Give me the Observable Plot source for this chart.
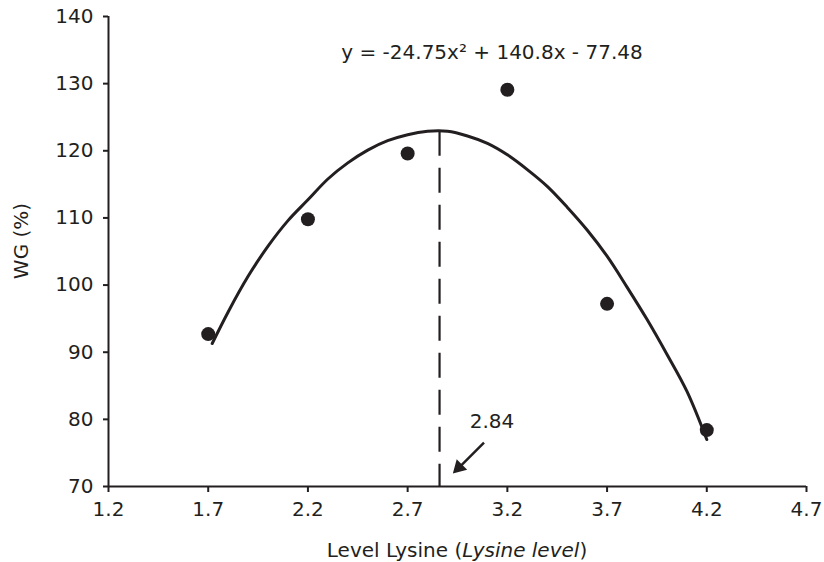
<!DOCTYPE html>
<html>
<head>
<meta charset="utf-8">
<script src="https://cdn.jsdelivr.net/npm/d3@7"></script>
<script src="https://cdn.jsdelivr.net/npm/@observablehq/plot@0.6"></script>
<style>
  html, body { margin: 0; padding: 0; background: #fff; }
  g[aria-label="x-axis tick"], g[aria-label="y-axis tick"], .tick line { stroke-width: 2px; }
</style>
</head>
<body>
<div id="chart"></div>
<script>
// Observed data points (lysine level vs weight gain %)
const levels = [1.7, 2.2, 2.7, 3.2, 3.7, 4.2];
const wg = [92.7, 109.8, 119.6, 129.1, 97.2, 78.4];

// Trend curve
const curveX = [1.72, 1.8, 1.9, 2.0, 2.1, 2.2, 2.3, 2.4, 2.5, 2.6, 2.7, 2.8, 2.9, 3.0, 3.1, 3.2, 3.3, 3.4, 3.5, 3.6, 3.7, 3.8, 3.9, 4.0, 4.1, 4.2];
const curveY = [91.3, 96.0, 101.3, 105.8, 109.6, 112.7, 115.8, 118.2, 120.1, 121.5, 122.4, 122.9, 122.9, 122.2, 121.1, 119.4, 117.2, 114.7, 111.6, 108.2, 104.3, 99.7, 94.9, 89.7, 84.2, 77.0];

// Axis ticks
const xTicks = [1.2, 1.7, 2.2, 2.7, 3.2, 3.7, 4.2, 4.7];
const yTicks = [70, 80, 90, 100, 110, 120, 130, 140];

// Annotations
const optimumX = 2.86;
const optimumY = 122.9;
const optimumLabel = "2.84";
const labelPos = [3.123, 79.7];
const equation = "y = -24.75x\u00b2 + 140.8x - 77.48";
const equationPos = [3.123, 134.6];
const arrowTail = [3.083, 76.55];
const arrowNeck = [2.95, 72.6];
const arrowTip = [2.927, 71.93];

const ink = "#231f20";
const points = levels.map((x, i) => ({x, y: wg[i]}));
const curve = curveX.map((x, i) => ({x, y: curveY[i]}));

const svg = Plot.plot({
  width: 824,
  height: 562,
  marginLeft: 108,
  marginRight: 18,
  marginTop: 16,
  marginBottom: 76,
  style: {fontFamily: "DejaVu Sans", fontSize: "20px", color: ink, background: "#fff"},
  x: {domain: [1.2, 4.7], ticks: xTicks, tickFormat: d => d.toFixed(1), tickSize: 6, tickPadding: 9, label: null},
  y: {domain: [70, 140], ticks: yTicks, tickSize: 5, tickPadding: 10, label: null},
  marks: [
    Plot.ruleX([1.2], {stroke: ink, strokeWidth: 2}),
    Plot.ruleY([70], {stroke: ink, strokeWidth: 2}),
    Plot.ruleX([optimumX], {y1: optimumY, y2: 70, stroke: ink, strokeWidth: 2.2, strokeDasharray: "25,12"}),
    Plot.line(curve, {x: "x", y: "y", stroke: ink, strokeWidth: 3, curve: "catmull-rom"}),
    Plot.dot(points, {x: "x", y: "y", r: 7, fill: ink}),
    Plot.text([equation], {x: equationPos[0], y: equationPos[1], text: d => d, fontSize: 20, fill: ink}),
    Plot.text([optimumLabel], {x: labelPos[0], y: labelPos[1], text: d => d, fontSize: 20, fill: ink}),
    Plot.link([0], {x1: arrowTail[0], y1: arrowTail[1], x2: arrowNeck[0], y2: arrowNeck[1], stroke: ink, strokeWidth: 2.5}),
    Plot.dot([0], {x: arrowTip[0], y: arrowTip[1], symbol: "triangle", r: 5.5, rotate: 225, dx: 6, dy: -6, fill: ink})
  ]
});

const s = d3.select(svg);
s.append("text")
  .attr("transform", "translate(21,241) rotate(-90)")
  .attr("text-anchor", "middle")
  .attr("dy", "0.35em")
  .attr("fill", ink)
  .attr("font-size", 20)
  .text("WG (%)");

const xl = s.append("text")
  .attr("x", 457)
  .attr("y", 550)
  .attr("text-anchor", "middle")
  .attr("dy", "0.35em")
  .attr("fill", ink)
  .attr("font-size", 20);
xl.append("tspan").text("Level Lysine (");
xl.append("tspan").attr("font-style", "italic").text("Lysine level");
xl.append("tspan").text(")");

document.getElementById("chart").appendChild(svg);
</script>
</body>
</html>
